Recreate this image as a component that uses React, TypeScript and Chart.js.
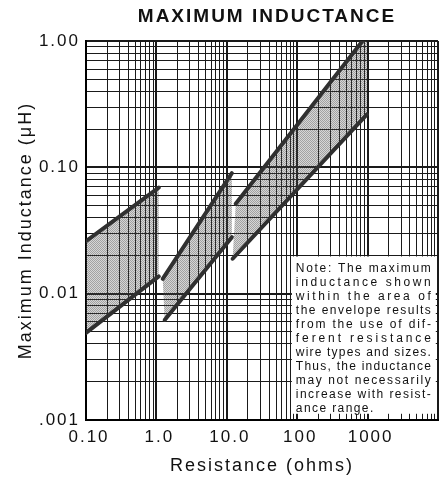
import React, { useEffect, useRef } from 'react';
import { Chart, registerables } from 'chart.js';

Chart.register(...registerables);

const FONT = '"Liberation Sans", Arial, sans-serif';
const TITLE = 'MAXIMUM INDUCTANCE';
const X_TITLE = 'Resistance (ohms)';
const Y_TITLE = 'Maximum Inductance (μH)';

const X_DECADES = [0.1, 1, 10, 100, 1000, 10000];
const X_TICK_LABELS = ['0.10', '1.0', '10.0', '100', '1000', ''];
const Y_DECADES = [0.001, 0.01, 0.1, 1];
const Y_TICK_LABELS = ['.001', '0.01', '0.10', '1.00'];

// Envelope boundaries (resistance in ohms, inductance in µH)
const SEG1_UPPER = [{ x: 0.1, y: 0.026 }, { x: 1.08, y: 0.069 }];
const SEG1_LOWER = [{ x: 0.1, y: 0.0049 }, { x: 1.08, y: 0.0137 }];
const SEG2_UPPER = [{ x: 1.23, y: 0.0131 }, { x: 11.8, y: 0.09 }];
const SEG2_LOWER = [{ x: 1.31, y: 0.0062 }, { x: 11.8, y: 0.028 }];
const SEG3_UPPER = [{ x: 13.4, y: 0.0515 }, { x: 980, y: 1.11 }];
const SEG3_LOWER = [{ x: 12.1, y: 0.0189 }, { x: 980, y: 0.262 }];

const NOTE_LINES = [
  'Note: The maximum',
  'inductance shown',
  'within the area of',
  'the envelope results',
  'from the use of dif-',
  'ferent resistance',
  'wire types and sizes.',
  'Thus, the inductance',
  'may not necessarily',
  'increase with resist-',
  'ance range.',
];
// note box extent in data units
const NOTE_X_RANGE = [84, 9300];
const NOTE_Y_RANGE = [0.00112, 0.0197];

function minorTicks(decades: number[]) {
  const out: number[] = [];
  for (let i = 0; i < decades.length - 1; i++) {
    for (let k = 1; k <= 9; k++) out.push(decades[i] * k);
  }
  out.push(decades[decades.length - 1]);
  return out;
}

function labelFor(v: number, decades: number[], labels: string[]) {
  for (let i = 0; i < decades.length; i++) {
    if (Math.abs(Math.log10(v) - Math.log10(decades[i])) < 1e-6) return labels[i];
  }
  return '';
}

function isDecade(v: number | undefined) {
  if (v === undefined || v === null) return false;
  const l = Math.log10(v);
  return Math.abs(l - Math.round(l)) < 1e-6;
}

function polygon(upper: { x: number; y: number }[], lower: { x: number; y: number }[]) {
  return [...upper, ...[...lower].reverse()];
}

const spacingPlugin = {
  id: 'spacing',
  beforeUpdate(chart: any) { chart.ctx.letterSpacing = '2px'; },
  beforeLayout(chart: any) { chart.ctx.letterSpacing = '2px'; },
  beforeDraw(chart: any) { chart.ctx.letterSpacing = '2px'; },
};

const decorPlugin = {
  id: 'decor',
  afterDatasetsDraw(chart: any) {
    const { ctx, scales } = chart;
    const xs = scales.x;
    const ys = scales.y;
    const left = xs.getPixelForValue(NOTE_X_RANGE[0]);
    const right = xs.getPixelForValue(NOTE_X_RANGE[1]);
    const top = ys.getPixelForValue(NOTE_Y_RANGE[1]);
    const bottom = ys.getPixelForValue(NOTE_Y_RANGE[0]);
    ctx.save();
    ctx.fillStyle = '#ffffff';
    ctx.fillRect(left, top, right - left, bottom - top);
    ctx.fillStyle = '#111';
    ctx.font = `12px ${FONT}`;
    ctx.textAlign = 'left';
    ctx.textBaseline = 'middle';
    const tx = left + 4;
    const tw = right - left - 9;
    NOTE_LINES.forEach((line, i) => {
      const y = top + 12 + i * 14;
      const justify = i < NOTE_LINES.length - 1;
      ctx.letterSpacing = '0px';
      const w0 = ctx.measureText(line).width;
      const s = justify ? Math.max(0, (tw - w0) / (line.length - 1)) : 1.4;
      ctx.letterSpacing = `${s.toFixed(2)}px`;
      ctx.fillText(line, tx, y);
    });
    ctx.restore();
  },
  afterDraw(chart: any) {
    const { ctx, chartArea } = chart;
    ctx.save();
    ctx.fillStyle = '#111';
    ctx.font = `bold 19px ${FONT}`;
    ctx.letterSpacing = '2px';
    ctx.textAlign = 'center';
    ctx.textBaseline = 'middle';
    ctx.fillText(TITLE, (chartArea.left + chartArea.right) / 2 + 5, 17);
    ctx.restore();
  },
};

export default function App() {
  const ref = useRef<HTMLCanvasElement>(null);
  useEffect(() => {
    const canvas = ref.current;
    if (!canvas) return;
    const ctx2d = canvas.getContext('2d')!;
    const pc = document.createElement('canvas');
    pc.width = 2;
    pc.height = 2;
    const p = pc.getContext('2d')!;
    p.fillStyle = 'rgba(70,70,70,0.5)';
    p.fillRect(0, 0, 1, 1);
    p.fillRect(1, 1, 1, 1);
    p.fillStyle = 'rgba(70,70,70,0.22)';
    p.fillRect(1, 0, 1, 1);
    p.fillRect(0, 1, 1, 1);
    const pattern = ctx2d.createPattern(pc, 'repeat');

    const lineDs = (data: { x: number; y: number }[]) => ({
      data,
      borderColor: '#303030',
      borderWidth: 4,
      borderCapStyle: 'round',
      pointRadius: 0,
      fill: false,
      order: 0,
    });
    const polyDs = (data: { x: number; y: number }[]) => ({
      data,
      borderColor: 'rgba(0,0,0,0)',
      borderWidth: 0,
      backgroundColor: pattern,
      pointRadius: 0,
      fill: 'shape',
      order: 1,
    });

    const xTicks = minorTicks(X_DECADES);
    const yTicks = minorTicks(Y_DECADES);

    const chart = new Chart(canvas, {
      type: 'line',
      data: {
        datasets: [
          lineDs(SEG1_UPPER),
          lineDs(SEG1_LOWER),
          lineDs(SEG2_UPPER),
          lineDs(SEG2_LOWER),
          lineDs(SEG3_UPPER),
          lineDs(SEG3_LOWER),
          polyDs(polygon(SEG1_UPPER, SEG1_LOWER)),
          polyDs(polygon(SEG2_UPPER, SEG2_LOWER)),
          polyDs(polygon(SEG3_UPPER, SEG3_LOWER)),
        ] as any,
      },
      options: {
        animation: false,
        responsive: false,
        devicePixelRatio: 1,
        layout: { padding: { top: 41, right: 4, left: 0, bottom: 0 } },
        plugins: { legend: { display: false }, tooltip: { enabled: false }, title: { display: false } },
        scales: {
          x: {
            type: 'logarithmic',
            min: 0.1,
            max: 10000,
            afterBuildTicks: (s: any) => { s.ticks = xTicks.map((v) => ({ value: v })); },
            afterFit: (s: any) => { s.height = 58; },
            ticks: {
              autoSkip: false,
              maxRotation: 0,
              minRotation: 0,
              padding: 7,
              labelOffset: 3,
              color: '#111',
              font: { family: FONT, size: 17 },
              callback: (v: any) => labelFor(Number(v), X_DECADES, X_TICK_LABELS),
            },
            grid: {
              color: '#1a1a1a',
              lineWidth: (c: any) => (isDecade(c.tick?.value) ? 2 : 1),
              drawTicks: false,
            },
            border: { display: true, color: '#000', width: 2 },
            title: { display: true, text: X_TITLE, color: '#111', font: { family: FONT, size: 18 }, padding: { top: 0, bottom: 1 } },
          },
          y: {
            type: 'logarithmic',
            min: 0.001,
            max: 1,
            afterBuildTicks: (s: any) => { s.ticks = yTicks.map((v) => ({ value: v })); },
            afterFit: (s: any) => { s.width = 86; },
            ticks: {
              autoSkip: false,
              padding: 6,
              color: '#111',
              font: { family: FONT, size: 17 },
              callback: (v: any) => labelFor(Number(v), Y_DECADES, Y_TICK_LABELS),
            },
            grid: {
              color: '#1a1a1a',
              lineWidth: (c: any) => (isDecade(c.tick?.value) ? 2 : 1),
              drawTicks: false,
            },
            border: { display: true, color: '#000', width: 2 },
            title: { display: true, text: Y_TITLE, color: '#111', font: { family: FONT, size: 18 }, padding: { top: 15, bottom: 0 } },
          },
        },
      } as any,
      plugins: [spacingPlugin, decorPlugin],
    });
    return () => chart.destroy();
  }, []);
  return (
    <div style={{ position: 'fixed', left: 0, top: 0, width: 445, height: 478, background: '#fff' }}>
      <canvas ref={ref} width={445} height={478} style={{ display: 'block' }} />
    </div>
  );
}
